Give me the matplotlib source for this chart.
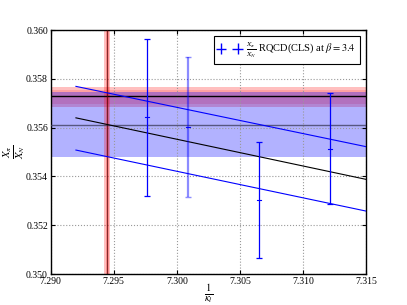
import matplotlib
matplotlib.use("Agg")
import matplotlib.pyplot as plt
import numpy as np

plt.rcParams['font.family'] = ['Liberation Serif', 'DejaVu Serif']
plt.rcParams['mathtext.fontset'] = 'stix'

# data points (1/kappa_l, X_pi/X_N, error)
x_pts = [7.29767, 7.30648, 7.31214]
y_pts = [0.35642, 0.35302, 0.35513]
e_pts = [0.00322, 0.00238, 0.00227]
x_pts2 = [7.30087]
y_pts2 = [0.35602]
e_pts2 = [0.00286]

# fit lines: central, upper, lower
fit_x = [7.2920, 7.3150]
fit_c = [0.35640, 0.35388]
fit_u = [0.35769, 0.35522]
fit_l = [0.35508, 0.35258]

# horizontal bands
red_center = 0.35728
red_outer = [0.35686, 0.35768]
red_inner = [0.35698, 0.35756]
blue_center = 0.35610
blue_band = [0.35478, 0.35745]

# vertical band
v_center = 7.29449
v_outer = [7.29424, 7.29471]
v_inner = [7.29436, 7.29462]

fig = plt.figure(figsize=(4.07, 3.05), dpi=100)
ax = fig.add_axes([0.1246, 0.1016, 0.7746, 0.80])

ax.axhspan(*red_outer, color='#ff0000', alpha=0.25, lw=0, zorder=1)
ax.axhspan(*red_inner, color='#ff0000', alpha=0.15, lw=0, zorder=1)
ax.axhline(red_center, color='black', lw=1.0, zorder=3)
ax.axhspan(*blue_band, color='#0000ff', alpha=0.3, lw=0, zorder=1)
ax.axhline(blue_center, color='#404060', lw=1.0, alpha=0.8, zorder=3)

ax.axvspan(*v_outer, color='#ff0000', alpha=0.25, lw=0, zorder=2)
ax.axvspan(*v_inner, color='#ff0000', alpha=0.25, lw=0, zorder=2)
ax.axvline(v_center, color='#500000', lw=0.8, alpha=0.7, zorder=3)

ax.plot(fit_x, fit_c, color='black', lw=0.8, zorder=4)
ax.plot(fit_x, fit_u, color='blue', lw=0.8, zorder=4)
ax.plot(fit_x, fit_l, color='blue', lw=0.8, zorder=4)

ax.errorbar(x_pts, y_pts, yerr=e_pts, fmt='none', ecolor='blue',
            elinewidth=0.9, capsize=2, capthick=0.9, zorder=5)
ax.errorbar(x_pts2, y_pts2, yerr=e_pts2, fmt='none', ecolor='blue', alpha=0.45,
            elinewidth=1.6, capsize=2, capthick=1.0, zorder=5)
for xp, yp in zip(x_pts + x_pts2, y_pts + y_pts2):
    ax.plot([xp - 0.00016, xp + 0.00016], [yp, yp], color='blue', lw=0.8, zorder=5)

h_leg = ax.errorbar([], [], xerr=[], yerr=[], fmt='none', ecolor='blue',
                    elinewidth=1.0, capsize=2)
leg = ax.legend([h_leg], [r'$\frac{X_\pi}{X_N}$ RQCD(CLS) at $\beta=3.4$'],
                loc='upper right', numpoints=2, fontsize=7.5, fancybox=False,
                framealpha=1, edgecolor='black', borderaxespad=0.6,
                handlelength=2.2, handletextpad=0.5, borderpad=0.4)
leg.get_frame().set_linewidth(0.8)

ax.set_xlim(7.290, 7.315)
ax.set_ylim(0.350, 0.360)
ax.set_xticks([7.290, 7.295, 7.300, 7.305, 7.310, 7.315])
ax.set_yticks([0.350, 0.352, 0.354, 0.356, 0.358, 0.360])
ax.xaxis.set_major_formatter(matplotlib.ticker.FormatStrFormatter('%.3f'))
ax.yaxis.set_major_formatter(matplotlib.ticker.FormatStrFormatter('%.3f'))
ax.tick_params(direction='in', labelsize=7, length=3, top=True, right=True, pad=2)
ax.grid(True, color='#999999', linestyle=':', lw=0.8)

ax.set_xlabel(r'$\frac{1}{\kappa_l}$', fontsize=11)
ax.set_ylabel(r'$\frac{X_\pi}{X_N}$', fontsize=11)
ax.xaxis.set_label_coords(0.5, -0.035)
ax.yaxis.set_label_coords(-0.075, 0.5)
for s in ax.spines.values():
    s.set_linewidth(1.0)

fig.savefig('out.png', dpi=100)
